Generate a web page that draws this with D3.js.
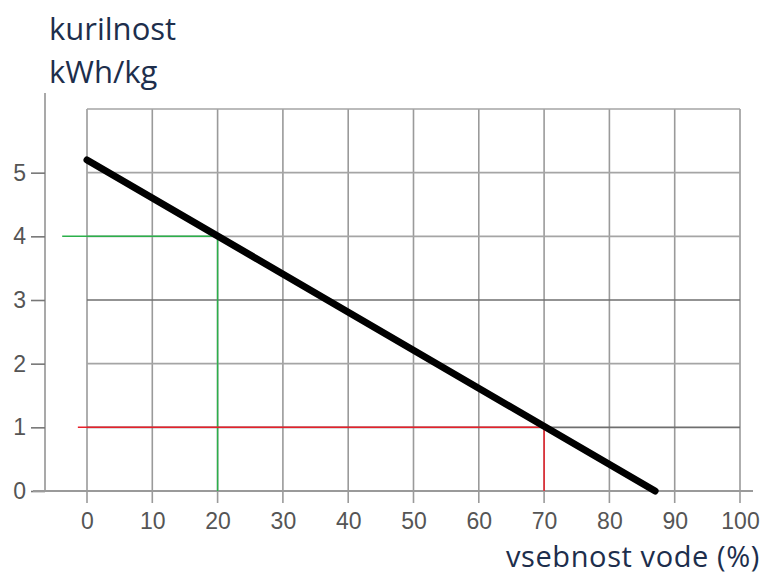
<!DOCTYPE html>
<html>
<head>
<meta charset="utf-8">
<script src="https://cdn.jsdelivr.net/npm/d3@7"></script>
<style>
	body { margin: 0; background: #fff; }
	svg { display: block; }
</style>
</head>
<body>
<svg id="chart"></svg>
<script>
// -------------- DATA --------------
const xTicks = [0, 10, 20, 30, 40, 50, 60, 70, 80, 90, 100];
const yTicks = [0, 1, 2, 3, 4, 5];
const yGrid = [1, 2, 3, 4, 5, 6];
// kurilnost vs vsebnost vode
const mainLine = [
	{ water: 0, value: 5.2 },
	{ water: 87, value: 0 }
];
// read-off guides
const greenGuide = [
	{ water: -3.8, value: 4 },
	{ water: 20, value: 4 },
	{ water: 20, value: 0 }
];
const redGuide = [
	{ water: -1.4, value: 1 },
	{ water: 70, value: 1 },
	{ water: 70, value: 0 }
];

const size = { w: 764, h: 574 };
const margin = { l: 87, r: 24, t: 109, b: 83 };

const svg = d3.select("#chart").attr("width", size.w).attr("height", size.h);

let xScale = d3
	.scaleLinear()
	.domain([0, 100])
	.range([margin.l, size.w - margin.r]);

let yScale = d3
	.scaleLinear()
	.domain([0, 6])
	.range([size.h - margin.b, margin.t]);

const tickFont = "Liberation Sans, Arial, sans-serif";

// grid
svg.append("g")
	.selectAll("line")
	.data(xTicks)
	.join("line")
	.attr("x1", (d) => xScale(d))
	.attr("x2", (d) => xScale(d))
	.attr("y1", yScale(6))
	.attr("y2", yScale(0) + 12)
	.attr("stroke", "#9a9a9a")
	.attr("stroke-width", 1.6);

svg.append("g")
	.selectAll("line")
	.data(yGrid)
	.join("line")
	.attr("x1", xScale(0))
	.attr("x2", xScale(100))
	.attr("y1", (d) => yScale(d))
	.attr("y2", (d) => yScale(d))
	.attr("stroke", (d) => (d === 3 || d === 1 ? "#6f6f6f" : "#a5a5a5"))
	.attr("stroke-width", 1.6);

// y axis
let yAxis = d3
	.axisLeft(yScale)
	.tickValues(yTicks)
	.tickFormat(d3.format("d"))
	.tickSize(14)
	.tickPadding(5);
let yG = svg.append("g")
	.attr("transform", `translate(45, 0)`)
	.call(yAxis)
	.attr("font-size", 23)
	.attr("font-family", tickFont);
yG.select(".domain")
	.attr("d", `M0,${yScale(6.25)}V${yScale(0)}`)
	.attr("stroke", "#a0a0a0")
	.attr("stroke-width", 1.8);
yG.selectAll(".tick line").attr("stroke", "#777").attr("stroke-width", 1.6);
yG.selectAll(".tick text").attr("fill", "#555");

// x axis baseline
svg.append("line")
	.attr("x1", 33)
	.attr("x2", 753)
	.attr("y1", yScale(0))
	.attr("y2", yScale(0))
	.attr("stroke", "#9a9a9a")
	.attr("stroke-width", 1.8);

let xAxis = d3
	.axisBottom(xScale)
	.tickValues(xTicks)
	.tickFormat(d3.format("d"))
	.tickSize(0)
	.tickPadding(22);
let xG = svg.append("g")
	.attr("transform", `translate(0, ${yScale(0)})`)
	.call(xAxis)
	.attr("font-size", 23)
	.attr("font-family", tickFont);
xG.select(".domain").remove();
xG.selectAll(".tick text").attr("fill", "#555");

// guides
let lineGen = d3.line()
	.x((d) => xScale(d.water))
	.y((d) => yScale(d.value));

svg.append("path")
	.datum(greenGuide)
	.attr("d", lineGen)
	.attr("fill", "none")
	.attr("stroke", "#2bb04a")
	.attr("stroke-width", 1.5);

svg.append("path")
	.datum(redGuide)
	.attr("d", lineGen)
	.attr("fill", "none")
	.attr("stroke", "#e8202a")
	.attr("stroke-width", 1.5);

// main line
svg.append("path")
	.datum(mainLine)
	.attr("d", lineGen)
	.attr("fill", "none")
	.attr("stroke", "#000")
	.attr("stroke-width", 7)
	.attr("stroke-linecap", "round");

// labels
const labelFont = "Open Sans, Lato, sans-serif";
svg.append("text")
	.attr("x", 49)
	.attr("y", 40)
	.text("kurilnost")
	.attr("fill", "#1d2e4c")
	.style("font-family", labelFont)
	.style("font-size", "31px");
svg.append("text")
	.attr("x", 49)
	.attr("y", 83)
	.text("kWh/kg")
	.attr("fill", "#1d2e4c")
	.style("font-family", labelFont)
	.style("font-size", "31px");
svg.append("text")
	.attr("x", 760)
	.attr("y", 567)
	.attr("text-anchor", "end")
	.text("vsebnost vode (%)")
	.attr("fill", "#1d2e4c")
	.style("font-family", labelFont)
	.style("font-size", "29px")
	.style("letter-spacing", "0.6px");
</script>
</body>
</html>
